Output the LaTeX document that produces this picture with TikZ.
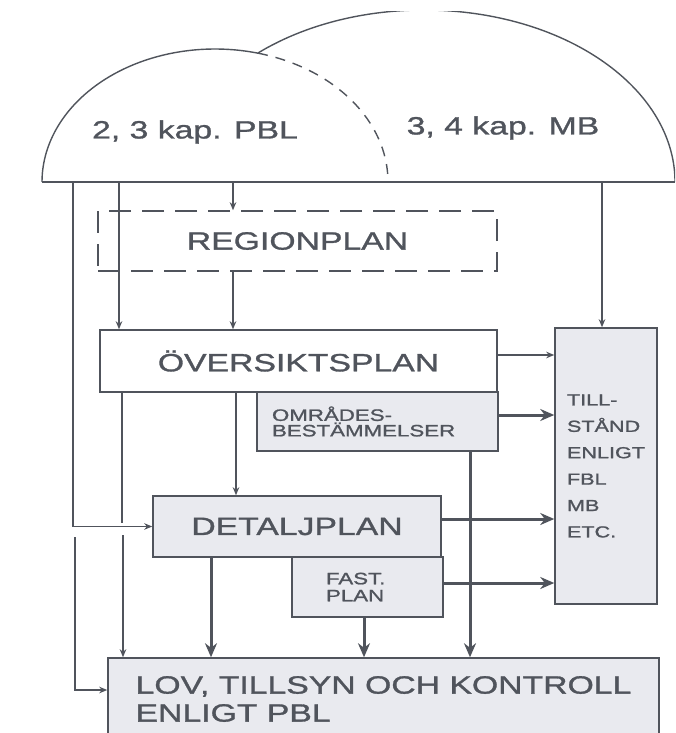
\documentclass[tikz,border=0pt]{standalone}
\usepackage{fontspec}
\setmainfont{Liberation Sans}[FakeStretch=1.35, FakeBold=1.2]
\usepackage{tikz}
\usetikzlibrary{arrows.meta,positioning,calc}
\definecolor{linegray}{RGB}{80,84,92}
\definecolor{shadegray}{RGB}{233,234,239}
\tikzset{
  pbox/.style={draw=linegray, line width=1.5pt, text=linegray, inner sep=0pt},
  sbox/.style={pbox, fill=shadegray},
  dbox/.style={pbox, dash pattern=on 22pt off 11pt},
  bigtxt/.style={font=\fontsize{25}{28}\selectfont},
  smalltxt/.style={font=\fontsize{16.5}{15.5}\selectfont},
  domeline/.style={linegray, line width=1.4pt},
  link/.style={linegray, line width=1.3pt},
  tarr/.style={link, -{Stealth[length=8pt,width=6.5pt,inset=2.5pt]}},
  barr/.style={linegray, line width=3pt, -{Stealth[length=14pt,width=12pt,inset=4.5pt]}},
}

\begin{document}
\begin{tikzpicture}[x=1pt, y=-1pt]
\useasboundingbox (0,0) rectangle (675,733);
\clip (0,0) rectangle (675,733);
\begin{scope}
  \clip (0,12) rectangle (675,733);
  \draw[domeline] (42,182) arc[start angle=-180, end angle=-75.6, x radius=173, y radius=133];
  \draw[domeline, dash pattern=on 10pt off 8pt] (215,182) ++(-75.6:173 and 133)
    arc[start angle=-75.6, end angle=0, x radius=173, y radius=133];
  \draw[domeline] (424,182) ++(-131.4:251 and 172)
    arc[start angle=-131.4, end angle=0, x radius=251, y radius=172];
  \draw[domeline] (42,182) -- (675,182);
\end{scope}
\node[bigtxt, text=linegray] (pbl) at (195,132) {2, 3 kap. PBL};
\node[bigtxt, text=linegray] (mb) at (503,128) {3, 4 kap. MB};

\node[dbox, bigtxt, minimum width=399, minimum height=60] (region) at (297.5,241) {REGIONPLAN};
\node[pbox, bigtxt, minimum width=397, minimum height=62] (overs) at (298.5,361) {ÖVERSIKTSPLAN};
\node[sbox, smalltxt, minimum width=241, minimum height=59, text width=211, inner xsep=15,
  align=left] (omrades) at (377.5,421.5) {OMRÅDES-\\BESTÄMMELSER};
\node[sbox, font=\fontsize{16}{26.4}\selectfont, minimum width=102, minimum height=276,
  align=left] (tillst) at (606,466) {TILL-\\STÅND\\ENLIGT\\FBL\\MB\\ETC.};
\node[sbox, bigtxt, minimum width=288, minimum height=61] (detalj) at (297,526.5) {DETALJPLAN};
\node[sbox, font=\fontsize{16.5}{17}\selectfont, minimum width=151, minimum height=60,
  text width=83, inner xsep=34, align=left] (fast) at (367.5,587) {FAST.\\PLAN};
\node[sbox, bigtxt, minimum width=551, minimum height=82, align=left] (lov) at (383.5,699)
  {LOV, TILLSYN OCH KONTROLL\\ENLIGT PBL};

\coordinate (b1) at (73,182);
\coordinate (b2) at (119,182);
\coordinate (b3) at (233,182);
\coordinate (b4) at (602,182);
\coordinate (g0) at (75,537);
\coordinate (g1) at (122,523);
\coordinate (g2) at (123,535);
\coordinate (k1) at (236,0);
\coordinate (k2) at (211,0);
\coordinate (k3) at (364,0);
\coordinate (k4) at (470,0);
\coordinate (r0) at (0,355);
\coordinate (r1) at (0,415);
\coordinate (r2) at (0,519);
\coordinate (r3) at (0,583);
\coordinate (r4) at (0,690);

\draw[tarr] (b1) |- (detalj.west);
\draw[tarr] (g0) |- (lov.west |- r4);
\draw[tarr] (b2) -- (b2 |- overs.north);
\draw[tarr] (b3) -- (b3 |- region.north);
\draw[tarr] (b3 |- region.south) -- (b3 |- overs.north);
\draw[tarr] (b4) -- (b4 |- tillst.north);
\draw[tarr] (overs.east |- r0) -- (tillst.west |- r0);
\draw[link] (g1 |- overs.south) -- (g1);
\draw[tarr] (g2) -- (g2 |- lov.north);
\draw[tarr] (k1 |- overs.south) -- (k1 |- detalj.north);
\draw[barr] (omrades.east |- r1) -- (tillst.west |- r1);
\draw[barr] (k4 |- omrades.south) -- (k4 |- lov.north);
\draw[barr] (detalj.east |- r2) -- (tillst.west |- r2);
\draw[barr] (fast.east |- r3) -- (tillst.west |- r3);
\draw[barr] (k2 |- detalj.south) -- (k2 |- lov.north);
\draw[barr] (k3 |- fast.south) -- (k3 |- lov.north);
\end{tikzpicture}
\end{document}
